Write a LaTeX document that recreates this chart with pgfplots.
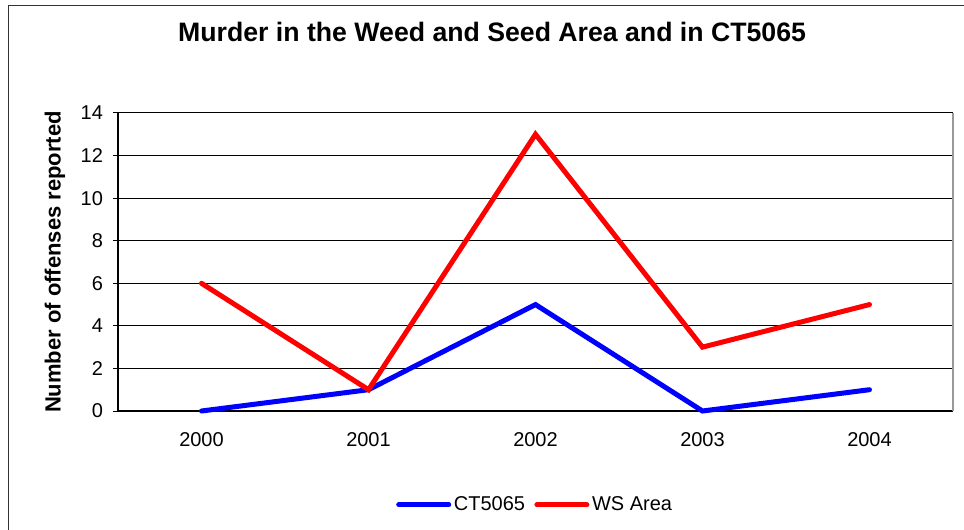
\documentclass[border=0pt]{standalone}
\usepackage{fontspec}
\setmainfont{Liberation Sans}
\usepackage{pgfplots}
\pgfplotsset{compat=1.18}

\definecolor{xlblue}{RGB}{0,0,255}
\definecolor{xlred}{RGB}{255,0,0}

\begin{document}
\begin{tikzpicture}
% page = 964 x 529 px at 0.75pt per px
\useasboundingbox (0,0) rectangle (723pt,396.75pt);
\draw[line width=1.1pt, black!80] (6.4pt,-2pt) -- (6.4pt,392.6pt) -- (725pt,392.6pt);

\begin{axis}[
    at={(88.5pt,88.5pt)}, anchor=south west,
    scale only axis,
    width=626.25pt, height=223.5pt,
    xmin=-0.5, xmax=4.5,
    ymin=0, ymax=14,
    ytick={0,2,...,14},
    xtick={0,1,2,3,4},
    xticklabels={2000,2001,2002,2003,2004},
    major x tick style={draw=none},
    extra x ticks={-0.5,0.5,1.5,2.5,3.5,4.5},
    extra x tick labels={},
    extra x tick style={grid=none, major tick length=3.75pt, tick align=outside,
        major tick style={draw=black, line width=0.75pt}},
    major tick length=3.75pt,
    tick align=outside,
    y tick style={black, line width=0.75pt},
    ymajorgrids,
    grid style={black, line width=0.75pt},
    axis x line*=bottom, axis y line*=left,
    axis line style={black, line width=1pt, -},
    ticklabel style={font=\fontsize{15}{18}\selectfont},
    /pgf/number format/assume math mode=true,
    xticklabel style={yshift=-9pt},
    yticklabel style={xshift=-4pt},
    ylabel={Number of offenses reported},
    ylabel style={font=\bfseries\fontsize{16.5}{19}\selectfont, at={(rel axis cs:-0.0754,0.5)}, anchor=center},
    title={Murder in the Weed and Seed Area and in CT5065},
    title style={font=\bfseries\fontsize{20}{24}\selectfont, at={(rel axis cs:0.448,1.245)}, anchor=center},
    legend style={at={(rel axis cs:0.5,-0.315)}, anchor=center, draw=none, fill=none,
        font=\fontsize{15}{18}\selectfont, legend columns=2,
        /tikz/every even column/.append style={column sep=5pt},
        inner sep=0pt},
    legend image code/.code={\draw[#1, line cap=round] (0pt,0pt) -- (37.5pt,0pt);},
    clip=false,
]
\draw[gray!80, line width=1pt] (rel axis cs:1,0) -- (rel axis cs:1,1);
\addplot[xlblue, line width=3.75pt, line cap=round] coordinates {(0,0) (1,1) (2,5) (3,0) (4,1)};
\addlegendentry{CT5065}
\addplot[xlred, line width=3.75pt, line cap=round] coordinates {(0,6) (1,1) (2,13) (3,3) (4,5)};
\addlegendentry{WS Area}
\end{axis}
\end{tikzpicture}
\end{document}
